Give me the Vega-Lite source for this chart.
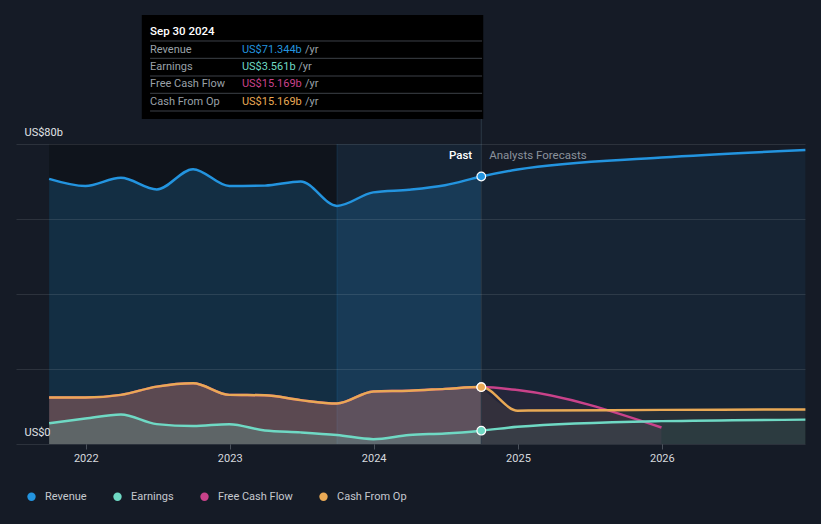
{
  "$schema": "https://vega.github.io/schema/vega-lite/v6.json",
  "width": 789,
  "height": 429,
  "autosize": {"type": "none"},
  "padding": {"left": 16, "top": 15, "right": 16, "bottom": 80},
  "background": "#151b26",
  "config": {"view": {"stroke": null}, "font": "Roboto"},
  "data": {
    "format": {"parse": {"date": "date"}},
    "values": [
      {"date": "2021-09-30", "series": "Revenue", "value": 70.7},
      {"date": "2021-12-31", "series": "Revenue", "value": 68.8},
      {"date": "2022-03-31", "series": "Revenue", "value": 71.0},
      {"date": "2022-06-30", "series": "Revenue", "value": 67.9},
      {"date": "2022-09-30", "series": "Revenue", "value": 73.3},
      {"date": "2022-12-31", "series": "Revenue", "value": 68.8},
      {"date": "2023-03-31", "series": "Revenue", "value": 68.9},
      {"date": "2023-06-30", "series": "Revenue", "value": 70.0},
      {"date": "2023-09-30", "series": "Revenue", "value": 63.5},
      {"date": "2023-12-31", "series": "Revenue", "value": 67.1},
      {"date": "2024-03-31", "series": "Revenue", "value": 67.8},
      {"date": "2024-06-30", "series": "Revenue", "value": 69.0},
      {"date": "2024-09-30", "series": "Revenue", "value": 71.344},
      {"date": "2024-12-31", "series": "Revenue", "value": 73.2},
      {"date": "2025-12-31", "series": "Revenue", "value": 76.4},
      {"date": "2026-12-31", "series": "Revenue", "value": 78.4},
      {"date": "2021-09-30", "series": "Free Cash Flow", "value": 12.4},
      {"date": "2021-12-31", "series": "Free Cash Flow", "value": 12.4},
      {"date": "2022-03-31", "series": "Free Cash Flow", "value": 13.1},
      {"date": "2022-06-30", "series": "Free Cash Flow", "value": 15.3},
      {"date": "2022-09-30", "series": "Free Cash Flow", "value": 16.2},
      {"date": "2022-12-31", "series": "Free Cash Flow", "value": 13.1},
      {"date": "2023-03-31", "series": "Free Cash Flow", "value": 13.0},
      {"date": "2023-06-30", "series": "Free Cash Flow", "value": 11.7},
      {"date": "2023-09-30", "series": "Free Cash Flow", "value": 10.8},
      {"date": "2023-12-31", "series": "Free Cash Flow", "value": 14.0},
      {"date": "2024-03-31", "series": "Free Cash Flow", "value": 14.2},
      {"date": "2024-06-30", "series": "Free Cash Flow", "value": 14.7},
      {"date": "2024-09-30", "series": "Free Cash Flow", "value": 15.169},
      {"date": "2024-12-31", "series": "Free Cash Flow", "value": 14.4},
      {"date": "2025-12-31", "series": "Free Cash Flow", "value": 4.4},
      {"date": "2021-09-30", "series": "Cash From Op", "value": 12.4},
      {"date": "2021-12-31", "series": "Cash From Op", "value": 12.4},
      {"date": "2022-03-31", "series": "Cash From Op", "value": 13.1},
      {"date": "2022-06-30", "series": "Cash From Op", "value": 15.3},
      {"date": "2022-09-30", "series": "Cash From Op", "value": 16.2},
      {"date": "2022-12-31", "series": "Cash From Op", "value": 13.1},
      {"date": "2023-03-31", "series": "Cash From Op", "value": 13.0},
      {"date": "2023-06-30", "series": "Cash From Op", "value": 11.7},
      {"date": "2023-09-30", "series": "Cash From Op", "value": 10.8},
      {"date": "2023-12-31", "series": "Cash From Op", "value": 14.0},
      {"date": "2024-03-31", "series": "Cash From Op", "value": 14.2},
      {"date": "2024-06-30", "series": "Cash From Op", "value": 14.7},
      {"date": "2024-09-30", "series": "Cash From Op", "value": 15.169},
      {"date": "2024-12-31", "series": "Cash From Op", "value": 8.9},
      {"date": "2025-12-31", "series": "Cash From Op", "value": 9.1},
      {"date": "2026-12-31", "series": "Cash From Op", "value": 9.2},
      {"date": "2021-09-30", "series": "Earnings", "value": 5.5},
      {"date": "2021-12-31", "series": "Earnings", "value": 6.8},
      {"date": "2022-03-31", "series": "Earnings", "value": 7.9},
      {"date": "2022-06-30", "series": "Earnings", "value": 5.3},
      {"date": "2022-09-30", "series": "Earnings", "value": 4.8},
      {"date": "2022-12-31", "series": "Earnings", "value": 5.3},
      {"date": "2023-03-31", "series": "Earnings", "value": 3.6},
      {"date": "2023-06-30", "series": "Earnings", "value": 3.1},
      {"date": "2023-09-30", "series": "Earnings", "value": 2.4},
      {"date": "2023-12-31", "series": "Earnings", "value": 1.3},
      {"date": "2024-03-31", "series": "Earnings", "value": 2.4},
      {"date": "2024-06-30", "series": "Earnings", "value": 2.8},
      {"date": "2024-09-30", "series": "Earnings", "value": 3.561},
      {"date": "2024-12-31", "series": "Earnings", "value": 4.6},
      {"date": "2025-12-31", "series": "Earnings", "value": 6.1},
      {"date": "2026-12-31", "series": "Earnings", "value": 6.5}
    ]
  },
  "encoding": {
    "x": {
      "field": "date",
      "type": "temporal",
      "title": null,
      "scale": {"type": "utc", "domain": [{"year": 2021, "month": 7, "date": 8, "utc": true}, {"year": 2026, "month": 12, "date": 30, "utc": true}]},
      "axis": {"title": null, "format": "%Y", "tickCount": {"interval": "year", "step": 1}, "grid": false, "domain": false, "ticks": true, "tickColor": "#4a515b", "tickSize": 5, "labelColor": "#d6d9de", "labelFontSize": 11, "labelPadding": 3}
    },
    "y": {
      "field": "value",
      "type": "quantitative",
      "title": null,
      "scale": {"domain": [0, 114.4], "nice": false, "zero": true},
      "axis": {"title": null, "values": [0, 20, 40, 60, 80], "grid": true, "gridColor": "#ffffff", "gridOpacity": 0.1, "domain": false, "ticks": false, "labelAlign": "left", "labelBaseline": "bottom", "labelPadding": -8, "labelOffset": -7, "labelColor": "#e0e3e7", "labelFontSize": 11, "labelExpr": "datum.value == 80 ? 'US$80b' : datum.value == 0 ? 'US$0' : ''", "zindex": 1}
    }
  },
  "layer": [
    {
      "transform": [{"filter": "datum.series == 'Revenue' && time(datum.date) == utc(2021, 8, 30)"}],
      "mark": {"type": "rect", "color": "#0b0e14", "opacity": 0.55},
      "encoding": {
        "x": {"datum": {"year": 2021, "month": 9, "date": 30, "utc": true}},
        "x2": {"datum": {"year": 2023, "month": 9, "date": 30, "utc": true}},
        "y": {"datum": 0},
        "y2": {"datum": 80}
      }
    },
    {
      "transform": [{"filter": "datum.series == 'Revenue' && time(datum.date) == utc(2021, 8, 30)"}],
      "mark": {"type": "rect", "color": "#2394df", "opacity": 0.08},
      "encoding": {
        "x": {"datum": {"year": 2023, "month": 9, "date": 30, "utc": true}},
        "x2": {"datum": {"year": 2024, "month": 9, "date": 30, "utc": true}},
        "y": {"datum": 0},
        "y2": {"datum": 80}
      }
    },
    {
      "transform": [{"filter": "datum.series == 'Revenue' && time(datum.date) == utc(2021, 8, 30)"}],
      "mark": {"type": "rule", "color": "#2394df", "opacity": 0.15, "strokeWidth": 1},
      "encoding": {
        "x": {"datum": {"year": 2023, "month": 9, "date": 30, "utc": true}},
        "y": {"datum": 0},
        "y2": {"datum": 80}
      }
    },
    {
      "transform": [{"filter": "time(datum.date) <= utc(2024, 8, 30)"}],
      "mark": {"type": "area", "interpolate": "monotone", "fillOpacity": 0.2},
      "encoding": {
        "y": {"field": "value", "type": "quantitative", "stack": null},
        "color": {"field": "series", "type": "nominal",
          "scale": {"domain": ["Revenue", "Earnings", "Free Cash Flow", "Cash From Op"], "range": ["#2394df", "#6fd9c4", "#c9428a", "#e9a955"]},
          "legend": {"title": null, "orient": "none", "legendX": 10, "legendY": 476, "direction": "horizontal", "symbolType": "circle", "symbolSize": 70, "symbolStrokeWidth": 0, "symbolOpacity": 1, "symbolFillOpacity": 1, "labelColor": "#c5c9cf", "labelFontSize": 11, "labelOffset": 8, "columnPadding": 25, "padding": 0}}
      }
    },
    {
      "transform": [{"filter": "time(datum.date) >= utc(2024, 8, 30)"}],
      "mark": {"type": "area", "interpolate": "monotone", "fillOpacity": 0.08},
      "encoding": {
        "y": {"field": "value", "type": "quantitative", "stack": null},
        "color": {"field": "series", "type": "nominal"}
      }
    },
    {
      "transform": [{"filter": "datum.series == 'Revenue' && time(datum.date) == utc(2021, 8, 30)"}],
      "mark": {"type": "rule", "color": "#2b3846", "strokeWidth": 1},
      "encoding": {
        "x": {"datum": {"year": 2024, "month": 9, "date": 30, "utc": true}},
        "y": {"datum": 0},
        "y2": {"datum": 86.67}
      }
    },
    {
      "mark": {"type": "line", "interpolate": "monotone", "strokeWidth": 2.5},
      "encoding": {
        "color": {"field": "series", "type": "nominal"}
      }
    },
    {
      "transform": [{"filter": "time(datum.date) == utc(2024, 8, 30)"}],
      "mark": {"type": "point", "filled": true, "size": 75, "stroke": "#ffffff", "strokeWidth": 1.2, "opacity": 1},
      "encoding": {
        "color": {"field": "series", "type": "nominal"}
      }
    },
    {
      "transform": [{"filter": "datum.series == 'Revenue' && time(datum.date) == utc(2021, 8, 30)"}],
      "layer": [
        {"mark": {"type": "text", "align": "right", "baseline": "middle", "color": "#ffffff", "fontSize": 11.5, "fontWeight": 500}, "encoding": {"x": {"datum": {"year": 2024, "month": 9, "date": 7, "utc": true}}, "y": {"datum": 76.8}, "text": {"value": "Past"}}},
        {"mark": {"type": "text", "align": "left", "baseline": "middle", "color": "#8b929c", "fontSize": 11.5}, "encoding": {"x": {"datum": {"year": 2024, "month": 10, "date": 20, "utc": true}}, "y": {"datum": 76.8}, "text": {"value": "Analysts Forecasts"}}},
        {"mark": {"type": "rect", "color": "#000000"}, "encoding": {"x": {"datum": {"year": 2022, "month": 5, "date": 23, "utc": true}}, "x2": {"datum": {"year": 2024, "month": 10, "date": 5, "utc": true}}, "y": {"datum": 86.67}, "y2": {"datum": 114.4}}},
        {"mark": {"type": "text", "align": "left", "baseline": "middle", "color": "#ffffff", "fontSize": 11.5, "fontWeight": 500}, "encoding": {"x": {"datum": {"year": 2022, "month": 6, "date": 13, "utc": true}}, "y": {"datum": 109.9}, "text": {"value": "Sep 30 2024"}}},
        {"mark": {"type": "rule", "color": "#3d4148"}, "encoding": {"x": {"datum": {"year": 2022, "month": 6, "date": 13, "utc": true}}, "x2": {"datum": {"year": 2024, "month": 10, "date": 2, "utc": true}}, "y": {"datum": 107.47}}},
        {"mark": {"type": "rule", "color": "#3d4148"}, "encoding": {"x": {"datum": {"year": 2022, "month": 6, "date": 13, "utc": true}}, "x2": {"datum": {"year": 2024, "month": 10, "date": 2, "utc": true}}, "y": {"datum": 102.85}}},
        {"mark": {"type": "rule", "color": "#3d4148"}, "encoding": {"x": {"datum": {"year": 2022, "month": 6, "date": 13, "utc": true}}, "x2": {"datum": {"year": 2024, "month": 10, "date": 2, "utc": true}}, "y": {"datum": 98.13}}},
        {"mark": {"type": "rule", "color": "#3d4148"}, "encoding": {"x": {"datum": {"year": 2022, "month": 6, "date": 13, "utc": true}}, "x2": {"datum": {"year": 2024, "month": 10, "date": 2, "utc": true}}, "y": {"datum": 93.52}}},
        {"mark": {"type": "rule", "color": "#3d4148"}, "encoding": {"x": {"datum": {"year": 2022, "month": 6, "date": 13, "utc": true}}, "x2": {"datum": {"year": 2024, "month": 10, "date": 2, "utc": true}}, "y": {"datum": 88.8}}},
        {"mark": {"type": "text", "align": "left", "baseline": "middle", "color": "#9aa0a8", "fontSize": 11}, "encoding": {"x": {"datum": {"year": 2022, "month": 6, "date": 13, "utc": true}}, "y": {"datum": 105.2}, "text": {"value": "Revenue"}}},
        {"mark": {"type": "text", "align": "left", "baseline": "middle", "color": "#9aa0a8", "fontSize": 11}, "encoding": {"x": {"datum": {"year": 2022, "month": 6, "date": 13, "utc": true}}, "y": {"datum": 100.6}, "text": {"value": "Earnings"}}},
        {"mark": {"type": "text", "align": "left", "baseline": "middle", "color": "#9aa0a8", "fontSize": 11}, "encoding": {"x": {"datum": {"year": 2022, "month": 6, "date": 13, "utc": true}}, "y": {"datum": 95.9}, "text": {"value": "Free Cash Flow"}}},
        {"mark": {"type": "text", "align": "left", "baseline": "middle", "color": "#9aa0a8", "fontSize": 11}, "encoding": {"x": {"datum": {"year": 2022, "month": 6, "date": 13, "utc": true}}, "y": {"datum": 91.3}, "text": {"value": "Cash From Op"}}},
        {"mark": {"type": "text", "align": "left", "baseline": "middle", "color": "#9aa0a8", "fontSize": 11}, "encoding": {"x": {"datum": {"year": 2023, "month": 7, "date": 11, "utc": true}}, "y": {"datum": 105.2}, "text": {"value": "/yr"}}},
        {"mark": {"type": "text", "align": "left", "baseline": "middle", "color": "#9aa0a8", "fontSize": 11}, "encoding": {"x": {"datum": {"year": 2023, "month": 6, "date": 24, "utc": true}}, "y": {"datum": 100.6}, "text": {"value": "/yr"}}},
        {"mark": {"type": "text", "align": "left", "baseline": "middle", "color": "#9aa0a8", "fontSize": 11}, "encoding": {"x": {"datum": {"year": 2023, "month": 7, "date": 11, "utc": true}}, "y": {"datum": 95.9}, "text": {"value": "/yr"}}},
        {"mark": {"type": "text", "align": "left", "baseline": "middle", "color": "#9aa0a8", "fontSize": 11}, "encoding": {"x": {"datum": {"year": 2023, "month": 7, "date": 11, "utc": true}}, "y": {"datum": 91.3}, "text": {"value": "/yr"}}},
        {"mark": {"type": "text", "align": "left", "baseline": "middle", "fontSize": 11}, "encoding": {"x": {"datum": {"year": 2023, "month": 2, "date": 1, "utc": true}}, "y": {"datum": 105.2}, "text": {"value": "US$71.344b"}, "color": {"datum": "Revenue"}}},
        {"mark": {"type": "text", "align": "left", "baseline": "middle", "fontSize": 11}, "encoding": {"x": {"datum": {"year": 2023, "month": 2, "date": 1, "utc": true}}, "y": {"datum": 100.6}, "text": {"value": "US$3.561b"}, "color": {"datum": "Earnings"}}},
        {"mark": {"type": "text", "align": "left", "baseline": "middle", "fontSize": 11}, "encoding": {"x": {"datum": {"year": 2023, "month": 2, "date": 1, "utc": true}}, "y": {"datum": 95.9}, "text": {"value": "US$15.169b"}, "color": {"datum": "Free Cash Flow"}}},
        {"mark": {"type": "text", "align": "left", "baseline": "middle", "fontSize": 11}, "encoding": {"x": {"datum": {"year": 2023, "month": 2, "date": 1, "utc": true}}, "y": {"datum": 91.3}, "text": {"value": "US$15.169b"}, "color": {"datum": "Cash From Op"}}}
      ]
    }
  ]
}
